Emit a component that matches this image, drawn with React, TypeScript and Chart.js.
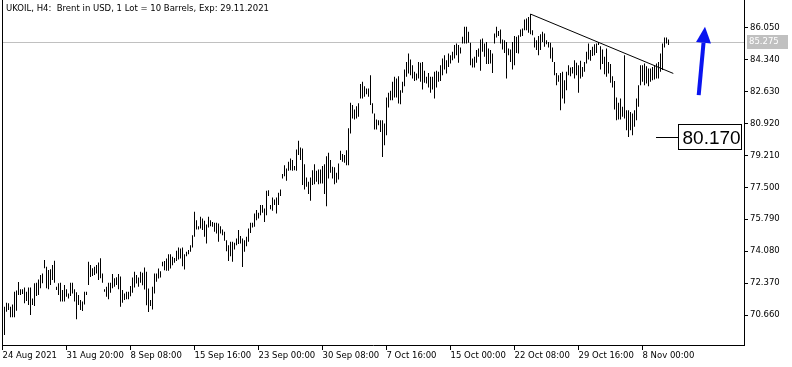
import React, { useEffect, useRef } from 'react';
import { Chart, registerables } from 'chart.js';

Chart.register(...registerables);

// H4 bars, index 1..333 (left to right): high / low prices
const barHighs = [
  71.11, 71.32, 71.29, 71.11, 71.23, 71.91, 71.97, 72.43, 72.04, 72.04,
  72.13, 71.91, 72.13, 72.13, 71.55, 72.36, 72.39, 72.57, 72.80, 72.89,
  73.61, 73.25, 73.07, 73.11, 73.34, 73.57, 72.18, 72.36, 72.39, 72.00,
  72.27, 72.04, 71.82, 72.39, 72.39, 72.04, 71.88, 71.73, 71.47, 71.38,
  71.91, 71.91, 73.52, 73.34, 73.16, 73.25, 73.34, 73.47, 73.70, 72.89,
  72.04, 72.18, 72.39, 72.39, 72.86, 72.63, 72.68, 72.86, 72.72, 72.00,
  71.82, 71.91, 71.91, 72.21, 72.67, 72.98, 72.80, 72.67, 72.98, 72.92,
  73.21, 72.98, 72.08, 71.46, 72.17, 72.89, 72.89, 73.15, 73.01, 73.51,
  73.55, 73.69, 73.92, 73.92, 73.78, 73.72, 74.10, 74.28, 74.22, 74.28,
  73.92, 74.05, 74.14, 74.40, 74.94, 76.19, 75.74, 75.42, 75.92, 75.83,
  75.71, 75.51, 75.92, 75.74, 75.65, 75.60, 75.60, 75.56, 75.42, 75.24,
  75.12, 74.67, 74.40, 74.58, 74.58, 74.53, 74.76, 75.21, 74.89, 74.76,
  74.67, 74.85, 75.30, 75.60, 75.60, 76.10, 76.28, 76.14, 76.55, 76.55,
  76.37, 77.32, 77.35, 76.55, 76.96, 76.85, 76.96, 77.21, 77.39, 78.21,
  78.69, 78.51, 78.87, 79.05, 78.96, 78.64, 79.53, 79.99, 79.64, 79.58,
  78.74, 78.03, 77.80, 78.03, 78.42, 78.74, 78.39, 78.46, 78.46, 78.64,
  78.74, 79.17, 79.35, 78.96, 78.60, 78.57, 78.28, 78.78, 79.46, 79.28,
  79.23, 79.49, 80.66, 82.03, 81.91, 81.67, 81.85, 82.00, 83.03, 83.16,
  82.92, 82.80, 82.80, 83.51, 82.00, 81.46, 81.14, 81.10, 81.10, 81.10,
  80.92, 82.31, 82.56, 82.67, 83.15, 83.42, 83.33, 83.45, 82.70, 83.15,
  83.81, 84.22, 84.67, 84.35, 84.04, 83.69, 83.60, 84.22, 84.17, 84.22,
  83.74, 83.42, 83.63, 83.42, 83.42, 83.69, 83.74, 83.69, 84.04, 84.40,
  84.58, 84.31, 84.67, 84.58, 84.76, 85.12, 85.20, 85.12, 84.99, 85.56,
  86.10, 86.10, 85.83, 85.24, 84.40, 84.49, 84.85, 84.94, 85.42, 85.47,
  85.20, 85.29, 84.94, 84.85, 84.67, 85.74, 86.10, 85.88, 85.95, 85.42,
  85.38, 85.29, 84.94, 84.88, 85.29, 85.60, 85.56, 85.65, 85.95, 86.01,
  86.49, 86.54, 86.63, 86.78, 85.92, 85.53, 85.38, 85.60, 85.70, 85.83,
  85.74, 85.38, 85.29, 85.24, 84.99, 84.22, 83.63, 83.51, 83.63, 83.69,
  83.24, 83.69, 84.04, 83.92, 83.95, 84.31, 84.17, 84.04, 84.28, 83.95,
  84.22, 84.76, 85.20, 84.85, 85.03, 85.17, 85.20, 85.29, 85.06, 84.88,
  84.49, 84.94, 84.22, 84.10, 83.45, 83.20, 82.31, 82.03, 82.26, 81.81,
  84.58, 81.63, 81.63, 81.54, 81.45, 81.63, 82.26, 82.97, 84.04, 84.04,
  84.13, 83.99, 83.87, 83.87, 83.95, 84.04, 84.13, 84.22, 84.67, 85.20,
  85.53, 85.53, 85.42,
];

const barLows = [
  69.59, 70.84, 70.93, 70.54, 70.54, 70.54, 70.89, 71.73, 71.73, 71.79,
  71.29, 71.41, 71.20, 70.66, 71.20, 71.14, 71.68, 71.73, 72.09, 72.36,
  73.16, 72.09, 72.04, 72.27, 72.54, 72.39, 72.00, 71.73, 71.38, 71.38,
  71.38, 71.64, 71.55, 71.68, 71.82, 71.38, 70.43, 71.20, 70.93, 70.88,
  71.23, 71.73, 72.27, 72.70, 72.75, 72.80, 72.89, 72.54, 72.63, 72.39,
  71.91, 71.64, 71.50, 71.86, 72.09, 72.18, 72.27, 72.04, 71.11, 71.32,
  71.47, 71.50, 71.50, 71.67, 71.85, 72.14, 72.35, 72.17, 72.39, 72.26,
  72.03, 71.19, 70.83, 71.14, 70.96, 71.81, 72.44, 72.62, 72.67, 73.28,
  73.06, 73.03, 73.03, 73.15, 73.33, 73.46, 73.56, 73.64, 73.69, 73.28,
  73.10, 73.81, 73.92, 74.05, 74.28, 74.85, 75.24, 75.24, 75.30, 75.21,
  74.85, 74.49, 75.35, 75.42, 75.39, 75.12, 75.03, 74.58, 75.03, 74.94,
  74.64, 74.08, 73.55, 73.81, 73.51, 74.17, 74.40, 74.46, 74.49, 73.24,
  74.05, 74.35, 74.58, 75.06, 75.35, 75.39, 75.74, 75.83, 76.01, 76.14,
  75.65, 76.01, 77.03, 76.32, 76.24, 76.55, 76.10, 76.55, 77.03, 77.98,
  78.10, 77.85, 78.39, 78.42, 78.39, 78.42, 78.39, 79.23, 78.96, 77.62,
  77.39, 77.53, 77.14, 76.78, 77.62, 77.67, 77.80, 77.67, 77.71, 77.71,
  77.14, 76.49, 77.98, 78.28, 77.98, 77.67, 77.74, 77.92, 78.96, 78.87,
  78.82, 78.69, 78.69, 80.39, 81.19, 81.14, 81.19, 81.28, 82.26, 82.26,
  82.35, 82.49, 82.35, 81.91, 81.46, 80.60, 80.60, 80.83, 80.47, 79.13,
  79.76, 80.29, 81.78, 82.17, 82.17, 82.31, 82.31, 81.99, 81.95, 82.56,
  82.92, 83.42, 83.60, 83.51, 83.33, 83.20, 83.24, 83.33, 83.15, 82.74,
  83.10, 83.06, 82.85, 82.56, 82.74, 82.26, 82.85, 83.15, 83.20, 83.51,
  83.81, 83.60, 83.95, 84.13, 84.31, 84.40, 84.58, 84.17, 84.67, 85.20,
  85.20, 85.20, 85.24, 84.04, 83.92, 83.92, 84.17, 84.49, 83.74, 84.76,
  84.49, 84.10, 84.10, 84.13, 83.63, 85.20, 85.53, 85.60, 85.20, 84.88,
  84.70, 83.33, 84.58, 84.22, 83.81, 84.04, 84.70, 84.67, 85.56, 85.60,
  85.92, 85.92, 85.78, 85.70, 85.65, 84.99, 84.85, 84.58, 84.85, 85.29,
  85.03, 85.17, 84.99, 84.40, 84.22, 83.51, 82.97, 83.15, 81.63, 82.26,
  81.99, 82.70, 83.51, 83.45, 83.60, 83.33, 83.51, 82.56, 83.33, 83.42,
  83.69, 84.13, 84.35, 84.28, 84.53, 84.58, 84.70, 85.12, 83.81, 84.10,
  83.56, 83.42, 83.60, 83.10, 82.85, 81.67, 81.10, 81.13, 81.13, 81.28,
  81.19, 80.56, 80.20, 80.56, 80.29, 80.74, 81.10, 81.81, 82.97, 83.15,
  82.97, 83.06, 82.92, 83.15, 83.24, 83.28, 83.33, 83.33, 83.69, 83.78,
  84.99, 85.20, 85.12,
];

const yTickValues = [70.66, 72.37, 74.08, 75.79, 77.5, 79.21, 80.92, 82.63, 84.34, 86.05];
const xTickBars = [0, 32, 64, 96, 128, 160, 192, 224, 256, 288, 320];
const xTickLabels = [
  '24 Aug 2021', '31 Aug 20:00', '8 Sep 08:00', '15 Sep 16:00', '23 Sep 00:00',
  '30 Sep 08:00', '7 Oct 16:00', '15 Oct 00:00', '22 Oct 08:00', '29 Oct 16:00', '8 Nov 00:00',
];

const titleText = 'UKOIL, H4:  Brent in USD, 1 Lot = 10 Barrels, Exp: 29.11.2021';
const bidPrice = 85.275;
const trendBars = [264, 335.4];
const trendPrices = [86.78, 83.6];
const arrowBars = [348.1, 351.25];
const arrowPrices = [82.44, 86.1];
const levelPrice = 80.17;
const levelLineStartBar = 326.75;
const levelBoxStartBar = 337.9;

const AXIS_FONT = { family: 'DejaVu Sans', size: 8.5 };

const overlayPlugin = {
  id: 'mtOverlay',
  beforeDatasetsDraw(chart: any) {
    const { ctx, chartArea, scales } = chart;
    const yb = Math.round(scales.y.getPixelForValue(bidPrice)) + 0.5;
    ctx.save();
    ctx.strokeStyle = '#c0c0c0';
    ctx.lineWidth = 1;
    ctx.beginPath();
    ctx.moveTo(chartArea.left, yb);
    ctx.lineTo(chartArea.right, yb);
    ctx.stroke();
    ctx.restore();
  },
  afterDraw(chart: any) {
    const { ctx, chartArea, scales } = chart;
    const xs = scales.x;
    const ys = scales.y;
    ctx.save();
    // left frame
    ctx.strokeStyle = '#000';
    ctx.lineWidth = 1;
    ctx.beginPath();
    ctx.moveTo(chartArea.left + 0.5, chartArea.top);
    ctx.lineTo(chartArea.left + 0.5, chartArea.bottom);
    ctx.stroke();

    // title
    ctx.fillStyle = '#000';
    ctx.font = '8.5px "DejaVu Sans"';
    ctx.textBaseline = 'alphabetic';
    ctx.textAlign = 'left';
    ctx.fillText(titleText, 6, 11);

    // bid label on axis
    const yb = Math.round(ys.getPixelForValue(bidPrice));
    ctx.fillStyle = '#c0c0c0';
    ctx.fillRect(chartArea.right + 3, yb - 7, 41, 14);
    ctx.fillStyle = '#ffffff';
    ctx.textBaseline = 'middle';
    ctx.fillText(bidPrice.toFixed(3), chartArea.right + 5, yb);

    // level line + price box
    const ly = Math.round(ys.getPixelForValue(levelPrice)) + 0.5;
    const lx0 = xs.getPixelForValue(levelLineStartBar);
    const bx0 = Math.round(xs.getPixelForValue(levelBoxStartBar)) + 0.5;
    const bx1 = chartArea.right - 2.5;
    ctx.strokeStyle = '#000';
    ctx.beginPath();
    ctx.moveTo(lx0, ly);
    ctx.lineTo(bx0, ly);
    ctx.stroke();
    ctx.fillStyle = '#fff';
    ctx.fillRect(bx0, ly - 13, bx1 - bx0, 25);
    ctx.strokeRect(bx0, ly - 13, bx1 - bx0, 25);
    ctx.fillStyle = '#000';
    ctx.font = '19px "Liberation Sans"';
    ctx.textBaseline = 'middle';
    ctx.fillText(levelPrice.toFixed(3), bx0 + 4, ly + 1);

    // arrow
    const ax0 = xs.getPixelForValue(arrowBars[0]);
    const ay0 = ys.getPixelForValue(arrowPrices[0]);
    const ax1 = xs.getPixelForValue(arrowBars[1]);
    const ay1 = ys.getPixelForValue(arrowPrices[1]);
    const dx = ax1 - ax0;
    const dy = ay1 - ay0;
    const len = Math.hypot(dx, dy);
    const ux = dx / len;
    const uy = dy / len;
    const headLen = 16;
    const half = 7.5;
    const hx = ax1 - ux * headLen;
    const hy = ay1 - uy * headLen;
    ctx.strokeStyle = '#0a14f0';
    ctx.fillStyle = '#0a14f0';
    ctx.lineWidth = 4;
    ctx.beginPath();
    ctx.moveTo(ax0, ay0);
    ctx.lineTo(hx, hy);
    ctx.stroke();
    ctx.beginPath();
    ctx.moveTo(ax1, ay1);
    ctx.lineTo(hx - uy * half, hy + ux * half);
    ctx.lineTo(hx + uy * half, hy - ux * half);
    ctx.closePath();
    ctx.fill();
    ctx.restore();
  },
};

export default function App() {
  const canvasRef = useRef<HTMLCanvasElement | null>(null);

  useEffect(() => {
    const canvas = canvasRef.current;
    if (!canvas) return;
    const barData = barHighs.map((h, i) => ({ x: i + 1, y: [barLows[i], h] }));
    const trendData = trendBars.map((b, i) => ({ x: b, y: trendPrices[i] }));

    const chart = new Chart(canvas, {
      type: 'bar',
      data: {
        datasets: [
          {
            type: 'line',
            data: trendData as any,
            borderColor: '#000',
            borderWidth: 1,
            pointRadius: 0,
            order: 0,
          } as any,
          {
            type: 'bar',
            data: barData as any,
            backgroundColor: '#000',
            borderWidth: 0,
            barThickness: 1,
            inflateAmount: 0,
            order: 1,
          } as any,
        ],
      },
      options: {
        responsive: false,
        animation: false,
        devicePixelRatio: 1,
        layout: { padding: { left: 2, top: 0, right: 0, bottom: 0 } },
        plugins: {
          legend: { display: false },
          tooltip: { enabled: false },
          title: { display: false },
        },
        scales: {
          x: {
            type: 'linear',
            position: 'bottom',
            min: -0.25,
            max: 370.75,
            offset: false,
            grid: { display: true, drawOnChartArea: false, drawTicks: true, tickLength: 5, color: '#000', offset: false },
            border: { display: true, color: '#000' },
            ticks: {
              autoSkip: false,
              maxRotation: 0,
              minRotation: 0,
              align: 'start',
              padding: 1,
              color: '#000',
              font: AXIS_FONT,
              callback: (_v: any, idx: number) => xTickLabels[idx],
            },
            afterBuildTicks: (s: any) => {
              s.ticks = xTickBars.map((v) => ({ value: v }));
            },
            afterFit: (s: any) => {
              s.height = 22;
              s.paddingLeft = 0;
              s.paddingRight = 0;
            },
          } as any,
          y: {
            type: 'linear',
            position: 'right',
            min: 69.056,
            max: 87.534,
            beginAtZero: false,
            grid: { display: true, drawOnChartArea: false, drawTicks: true, tickLength: 4, color: '#000' },
            border: { display: true, color: '#000' },
            ticks: {
              padding: 2,
              color: '#000',
              font: AXIS_FONT,
              callback: (v: any) => Number(v).toFixed(3),
            },
            afterBuildTicks: (s: any) => {
              s.ticks = yTickValues.map((v) => ({ value: v }));
            },
            afterFit: (s: any) => {
              s.width = 48;
              s.paddingTop = 0;
              s.paddingBottom = 0;
            },
          } as any,
        },
      },
      plugins: [overlayPlugin],
    });

    return () => chart.destroy();
  }, []);

  return (
    <div style={{ position: 'absolute', left: 0, top: 0, width: 792, height: 367, background: '#fff' }}>
      <canvas ref={canvasRef} width={792} height={367} style={{ display: 'block', width: 792, height: 367 }} />
    </div>
  );
}
